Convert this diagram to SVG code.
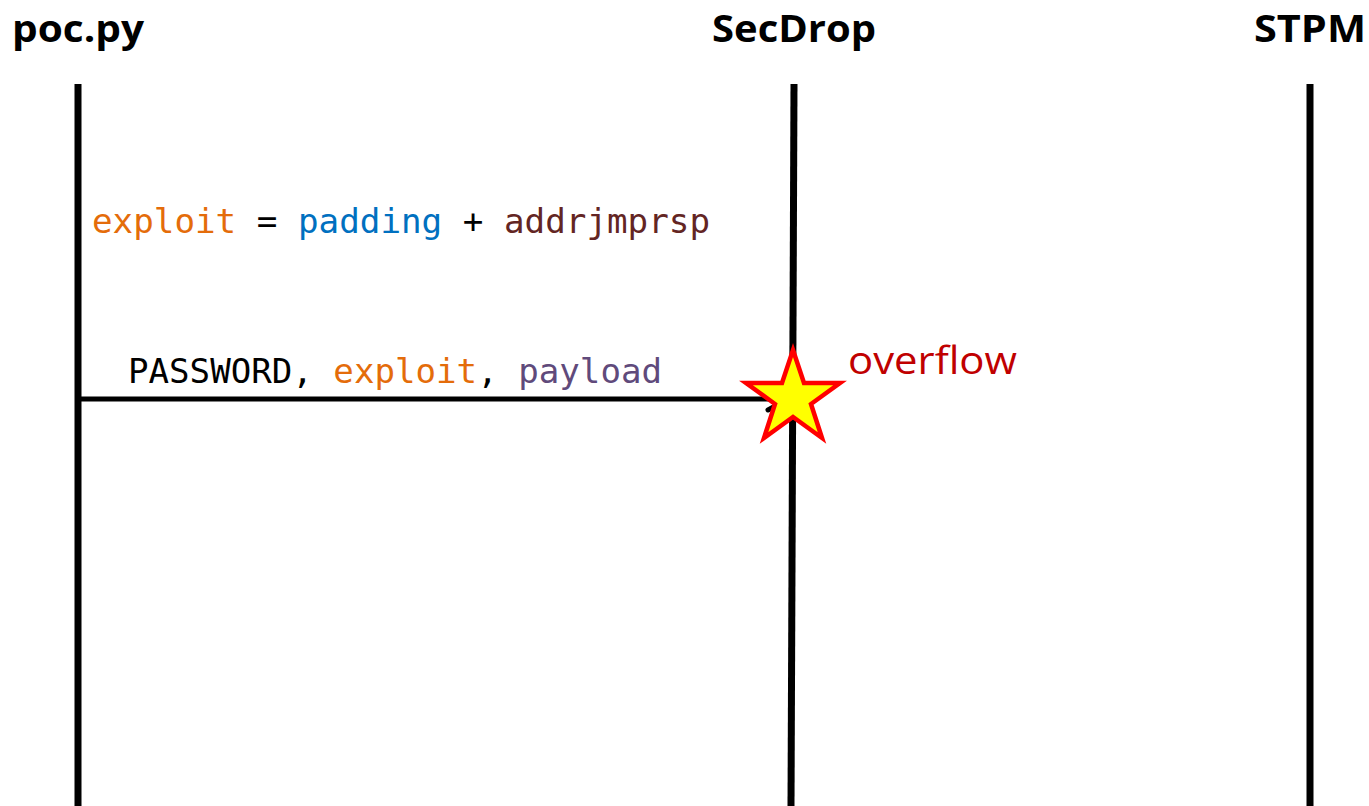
<svg xmlns="http://www.w3.org/2000/svg" width="1369" height="806" viewBox="0 0 1369 806">
<style>
.hdr{font-family:"Open Sans","Liberation Sans",sans-serif;font-weight:bold;font-size:38px;fill:#000}
.code{font-family:"DejaVu Sans Mono","Liberation Mono",monospace;font-size:33px}
.life{stroke:#000;stroke-width:7;fill:none}
.msg{stroke:#000;stroke-width:5;fill:none}
</style>
<rect width="1369" height="806" fill="#fff"/>
<g id="poc">
<text class="hdr" x="12" y="42" textLength="132" lengthAdjust="spacingAndGlyphs">poc.py</text>
<line class="life" x1="78" y1="84" x2="78" y2="806"/>
</g>
<g id="secdrop">
<text class="hdr" x="712" y="42" textLength="164" lengthAdjust="spacingAndGlyphs">SecDrop</text>
<line class="life" x1="794" y1="84" x2="791" y2="806"/>
</g>
<g id="stpm">
<text class="hdr" x="1254" y="42" textLength="112" lengthAdjust="spacingAndGlyphs">STPM</text>
<line class="life" x1="1310" y1="84" x2="1310" y2="806"/>
</g>
<g id="note">
<text class="code" x="92" y="233" textLength="618" lengthAdjust="spacingAndGlyphs"><tspan fill="#E46C0A">exploit</tspan><tspan fill="#000"> = </tspan><tspan fill="#0070C0">padding</tspan><tspan fill="#000"> + </tspan><tspan fill="#632523">addrjmprsp</tspan></text>
</g>
<g id="connectors">
<line class="msg" x1="78" y1="399" x2="786" y2="399"/>
<polyline class="msg" points="768,388 788,399 768,410" stroke-linecap="round"/>
<text class="code" x="128" y="383" textLength="534" lengthAdjust="spacingAndGlyphs"><tspan fill="#000">PASSWORD, </tspan><tspan fill="#E46C0A">exploit</tspan><tspan fill="#000">, </tspan><tspan fill="#604A7B">payload</tspan></text>
</g>
<g id="overflow">
<polygon points="793,350 804,383 840,383 811,404 822,438 793,417 764,438 775,404 746,383 782,383" fill="#FFFF00" stroke="#FF0000" stroke-width="4.5" stroke-linejoin="miter"/>
<text x="848" y="374" font-family="Open Sans,Liberation Sans,sans-serif" font-size="38" fill="#C00000" textLength="169" lengthAdjust="spacingAndGlyphs">overflow</text>
</g>
</svg>
